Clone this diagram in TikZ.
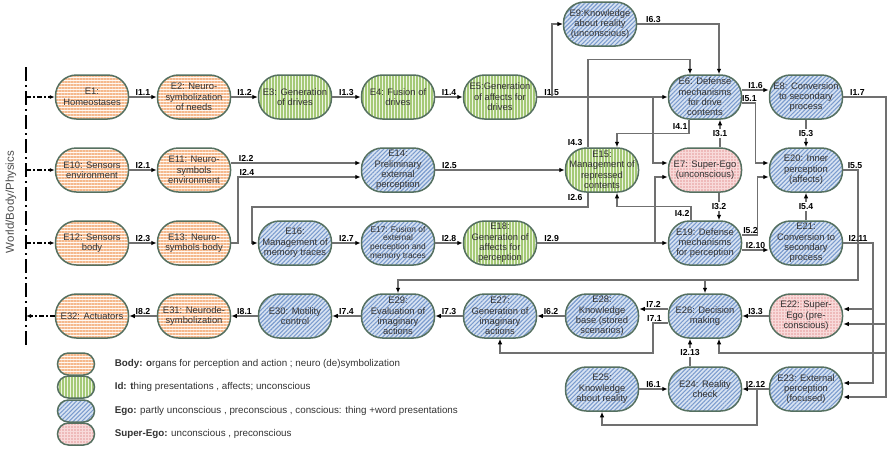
\documentclass[tikz,border=0pt]{standalone}
\usepackage{fontspec}
\setmainfont{Liberation Sans}
\usetikzlibrary{arrows.meta,patterns.meta}

\definecolor{bordc}{HTML}{557060}
\definecolor{linec}{HTML}{707070}
\definecolor{bodyc}{HTML}{F5B88C}
\definecolor{bodybg}{HTML}{FFF8F2}
\definecolor{idc}{HTML}{A5C977}
\definecolor{idbg}{HTML}{EEF5E4}
\definecolor{egoc}{HTML}{7B9CCE}
\definecolor{egobg}{HTML}{D8E3F2}
\definecolor{supc}{HTML}{E49A9A}
\definecolor{supbg}{HTML}{F8DADA}

\tikzset{
	box/.style={rectangle, rounded corners=21pt, minimum width=73pt, minimum height=44pt,
		inner sep=1pt, align=center, draw=bordc, line width=1.5pt, text=black!80,
		font=\fontsize{9.4}{10.4}\selectfont},
	body/.style={box, preaction={fill=bodybg}, pattern={Lines[angle=0,distance=3pt,line width=1.4pt]}, pattern color=bodyc},
	idb/.style={box, preaction={fill=idbg}, pattern={Lines[angle=90,distance=3pt,line width=1.2pt]}, pattern color=idc},
	ego/.style={box, preaction={fill=egobg}, pattern={Lines[angle=45,distance=3pt,line width=1.1pt]}, pattern color=egoc},
	sup/.style={box, preaction={fill=supbg}, pattern={Dots[distance=3pt,radius=0.9pt]}, pattern color=supc},
	conn/.style={draw=linec, line width=1.2pt, -{Latex[length=5.5pt,width=4.5pt,color=black]}},
	lbl/.style={above, inner sep=1pt, text=black, font=\fontsize{8.7}{10}\bfseries},
	lblv/.style={lbl, fill=white, anchor=center},
	world/.style={draw=black, line width=2.8pt, dash pattern=on 14pt off 4pt on 2pt off 4pt},
	wlink/.style={draw=black, line width=1.5pt, dash pattern=on 5pt off 2pt on 2pt off 2pt,
		-{Latex[length=5pt,width=4pt]}},
}

\begin{document}
\begin{tikzpicture}[x=1pt, y=-1pt]
	\useasboundingbox (0,0) rectangle (888,448);

	% row 0 and row 1
	\node[ego] (E9) at (600,24) {E9:Knowledge\\about reality\\(unconscious)};
	\node[body] (E1) at (92,97) {E1:\\Homeostases};
	\node[body] (E2) at (194,97) {E2: Neuro-\\symbolization\\of needs};
	\node[idb] (E3) at (295,97) {E3: Generation\\of drives};
	\node[idb] (E4) at (398,97) {E4: Fusion of\\drives};
	\node[idb] (E5) at (500,97) {E5:Generation\\of affects for\\drives};
	\node[ego] (E6) at (705,97) {E6: Defense\\mechanisms\\for drive\\contents};
	\node[ego] (E8) at (806,97) {E8: Conversion\\to secondary\\process};

	% row 2
	\node[body] (E10) at (92,170) {E10: Sensors\\environment};
	\node[body] (E11) at (194,170) {E11: Neuro-\\symbols\\environment};
	\node[ego] (E14) at (398,170) {E14:\\Preliminary\\external\\perception};
	\node[idb] (E15) at (602,170) {E15:\\Management of\\repressed\\contents};
	\node[sup] (E7) at (705,170) {E7: Super-Ego\\(unconscious)};
	\node[ego] (E20) at (806,170) {E20: Inner\\perception\\(affects)};

	% row 3
	\node[body] (E12) at (92,243) {E12: Sensors\\body};
	\node[body] (E13) at (194,243) {E13: Neuro-\\symbols body};
	\node[ego] (E16) at (295,243) {E16:\\Management of\\memory traces};
	\node[ego, font=\fontsize{8.4}{8.7}\selectfont] (E17) at (398,243) {E17: Fusion of\\external\\perception and\\memory traces};
	\node[idb] (E18) at (500,243) {E18:\\Generation of\\affects for\\perception};
	\node[ego] (E19) at (705,243) {E19: Defense\\mechanisms\\for perception};
	\node[ego] (E21) at (806,243) {E21:\\Conversion to\\secondary\\process};

	% row 4
	\node[body] (E32) at (92,316) {E32: Actuators};
	\node[body] (E31) at (194,316) {E31: Neurode-\\symbolization};
	\node[ego] (E30) at (295,316) {E30: Motility\\control};
	\node[ego] (E29) at (398,316) {E29:\\Evaluation of\\imaginary\\actions};
	\node[ego] (E27) at (500,316) {E27:\\Generation of\\imaginary\\actions};
	\node[ego] (E28) at (602,316) {E28:\\Knowledge\\base (stored\\scenarios)};
	\node[ego] (E26) at (705,316) {E26: Decision\\making};
	\node[sup] (E22) at (806,316) {E22: Super-\\Ego (pre-\\conscious)};

	% row 5
	\node[ego] (E25) at (602,389) {E25:\\Knowledge\\about reality};
	\node[ego] (E24) at (705,389) {E24: Reality\\check};
	\node[ego] (E23) at (806,389) {E23: External\\perception\\(focused)};

	% world border
	\node[rotate=90, text=black!70, font=\fontsize{11.5}{12}\selectfont] (world) at (11,202) {World/Body/Physics};
	\coordinate (wt) at (26,67);
	\coordinate (wb) at (26,347);
	\draw[world] (wt) -- (wb);
	\foreach \n in {E1,E10,E12} {
		\draw[wlink] (\n -| wt) -- (\n);
	}
	\draw[wlink] (E32) -- (E32 -| wt);

	% straight connectors
	\foreach \a/\b/\l in {E1/E2/I1.1, E2/E3/I1.2, E3/E4/I1.3, E4/E5/I1.4, E10/E11/I2.1,
		E12/E13/I2.3, E16/E17/I2.7, E17/E18/I2.8, E22/E26/I3.3, E28/E27/I6.2,
		E27/E29/I7.3, E29/E30/I7.4, E30/E31/I8.1, E31/E32/I8.2, E23/E24/I2.12, E25/E24/I6.1} {
		\draw[conn] (\a) -- node[lbl]{\l} (\b);
	}
	\draw[conn] (E5) -- node[lbl, pos=0.11]{I1.5} (E6);
	\draw[conn] (E14) -- node[lbl, pos=0.11]{I2.5} (E15);
	\draw[conn] (E18) -- node[lbl, pos=0.11]{I2.9} (E19);
	\draw[conn] ([yshift=7pt]E6.east) -- node[lbl]{I1.6} ([yshift=7pt]E8.west);
	\draw[conn] ([yshift=-7pt]E19.east) -- node[lbl]{I2.10} ([yshift=-7pt]E21.west);
	\draw[conn] ([yshift=7pt]E26.west) -- node[lbl]{I7.2} ([yshift=7pt]E28.east);
	\draw[conn] (E8) -- node[lblv]{I5.3} (E20);
	\draw[conn] (E21) -- node[lblv]{I5.4} (E20);
	\draw[conn] ([xshift=15pt]E7.north) -- node[lblv]{I3.1} ([xshift=15pt]E6.south);
	\draw[conn] ([xshift=14pt]E7.south) -- node[lblv]{I3.2} ([xshift=14pt]E19.north);
	\draw[conn] ([xshift=-15pt]E24.north) -- node[lblv]{I2.13} ([xshift=-15pt]E26.south);

	% sensor paths
	\draw[conn] ([yshift=7pt]E11.east) -- node[lbl, pos=0, anchor=south west, xshift=6pt]{I2.2} ([yshift=7pt]E14.west);
	\coordinate (w24) at (238,177);
	\draw[conn] (E13) -| (w24) -- node[lbl, pos=0, anchor=south west]{I2.4} ([yshift=-7pt]E14.west);

	% branches of I1.5 and I2.9
	\coordinate (j15a) at (552,97);
	\coordinate (j15b) at (653,97);
	\coordinate (j29) at (655,243);
	\draw[conn] (j15a) |- (E9);
	\draw[conn] (j15b) |- ([yshift=7pt]E7.west);
	\draw[conn] (j29) |- ([yshift=-7pt]E7.west);
	\draw[conn] (E9) -| node[lbl, pos=0.1]{I6.3} ([xshift=14pt]E6.north);

	% repressed contents
	\draw[conn] ([xshift=-14pt]E15.north) -- node[lbl, pos=0, anchor=south east, xshift=-4pt]{I4.3} ++(0,-88) -| ([xshift=-15pt]E6.north);
	\coordinate (w26) at (252,207);
	\draw[conn] ([xshift=-14pt]E15.south) |- node[lbl, pos=0, anchor=north east, xshift=-4pt]{I2.6} (w26) |- (E16);
	\draw[conn] ([xshift=-16pt]E6.south) -- node[lbl, left]{I4.1} ++(0,14) -| ([xshift=15pt]E15.north);
	\draw[conn] ([xshift=-14pt]E19.north) -- node[lbl, left]{I4.2} ++(0,-14) -| ([xshift=15pt]E15.south);

	% inner perception
	\draw[conn] ([yshift=-6pt]E6.east) -- node[lbl, pos=0.55]{I5.1} ++(13,0) |- ([yshift=7pt]E20.west);
	\draw[conn] ([yshift=8pt]E19.east) -- node[lbl, pos=0.55]{I5.2} ++(15,0) |- ([yshift=-7pt]E20.west);
	\coordinate (w55) at (858,280);
	\draw[conn] (E20) -| node[lbl, pos=0.4]{I5.5} (w55) -| (E29);
	\draw[conn] (E26.north |- w55) -- (E26.north);

	% right side feeds
	\coordinate (w17) at (886,97);
	\coordinate (w211) at (873,243);
	\coordinate (w71) at (653,353);
	\draw[conn] (E8) -- node[lbl, pos=0.33]{I1.7} (w17) |- ([yshift=-8pt]E23.east);
	\draw[conn] ([yshift=-8pt]E22.east -| w17) -- ([yshift=-8pt]E22.east);
	\draw[conn] (w17 |- w71) -| ([xshift=14pt]E26.south);
	\draw[conn] (E21) -- node[lbl]{I2.11} (w211) |- ([yshift=6pt]E23.east);
	\draw[conn] ([yshift=7pt]E22.east -| w211) -- ([yshift=7pt]E22.east);

	% decision and reality
	\draw[conn] ([yshift=-7pt]E26.west) -| node[lbl, pos=0.45]{I7.1} (w71) -| (E27);
	\coordinate (j212) at (757,389);
	\draw[conn] (j212) -- ++(0,36) -| (E25);

	% legend
	\foreach \s/\y/\t [count=\i] in {
		body/364/{\textbf{Body: o}rgans for perception and action ; neuro (de)symbolization},
		idb/387/{\textbf{Id: t}hing presentations , affects; unconscious},
		ego/411/{\textbf{Ego:} partly unconscious , preconscious , conscious: thing +word presentations},
		sup/434/{\textbf{Super-Ego:} unconscious , preconscious},
	} {
		\node[\s, minimum width=37pt, minimum height=22pt, rounded corners=11pt] (L\i) at (76,\y) {};
		\node[anchor=west, text=black!80, font=\fontsize{9.8}{11}\selectfont] (T\i) at ([xshift=16pt]L\i.east) {\t};
	}
\end{tikzpicture}
\end{document}
